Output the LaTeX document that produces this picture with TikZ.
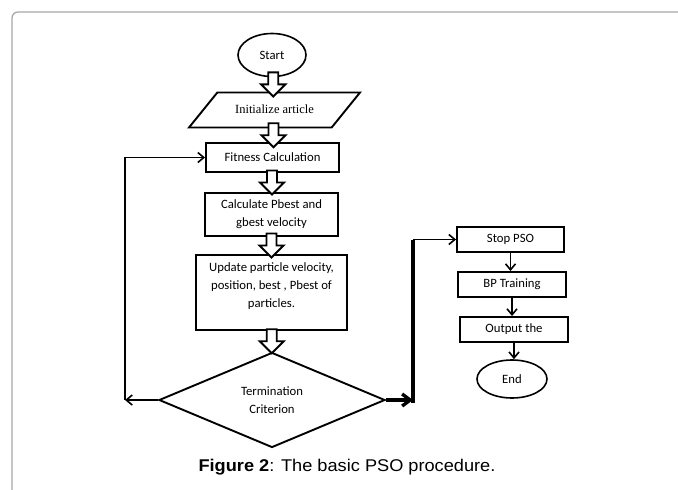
\documentclass[tikz,border=0pt]{standalone}
\usepackage{fontspec}
\setmainfont{Carlito}
\newfontfamily\timesfont{Liberation Serif}
\newfontfamily\arialfont{Liberation Sans}
\usetikzlibrary{arrows.meta,shapes.geometric,calc}
\definecolor{framegray}{HTML}{A8A8A8}
\newcommand{\boxfont}{\fontsize{12.7}{18}\selectfont}
\tikzset{
  procbox/.style={draw,line width=1.9pt,align=center,inner sep=0pt,
                  font=\boxfont},
  termnode/.style={draw,ellipse,line width=1.6pt,inner sep=0pt,
                   font=\boxfont},
  blockarr/.style={draw,fill=white,line width=1.9pt,line join=miter,
    to path={let \p1=($(\tikztostart)!0.5!(\tikztotarget)$) in
      ({\x1-5pt},{\y1+12pt}) -- ({\x1+5pt},{\y1+12pt}) -- ({\x1+5pt},\y1)
      -- ({\x1+12pt},\y1) -- (\x1,{\y1-12pt}) -- ({\x1-12pt},\y1)
      -- ({\x1-5pt},\y1) -- cycle}},
  thinarr/.style={-{Straight Barb[length=6pt,width=10pt]},line width=1.6pt},
  thickarr/.style={-{Straight Barb[length=8pt,width=12pt]},line width=3.4pt}
}
\begin{document}
\begin{tikzpicture}[x=1pt,y=-1pt]
  \useasboundingbox (0,0) rectangle (678,490);
  % page frame
  \draw[framegray,line width=1.3pt,rounded corners=6pt]
    (12,490) -- (12,12) -- (678,12);
  % main column
  \node[termnode,minimum width=68pt,minimum height=43pt] (start)
    at (272,55) {Start};
  \node[trapezium,draw,line width=1.9pt,trapezium left angle=51,
        trapezium right angle=129,trapezium stretches body,
        minimum width=171pt,text height=9pt,text depth=3pt,
        inner xsep=0pt,inner ysep=11.5pt,
        font=\timesfont\fontsize{12.5}{15}\selectfont] (init)
    at (274.5,110) {Initialize article};
  \node[procbox,minimum width=133pt,minimum height=29pt] (fit)
    at (272.5,157.5) {Fitness Calculation};
  \node[procbox,minimum width=133pt,minimum height=43pt] (calc)
    at (271.5,214.5) {Calculate Pbest and\\gbest velocity};
  \node[procbox,minimum width=151pt,minimum height=75pt,text depth=15pt] (upd)
    at (271.5,292.5) {Update particle velocity,\\position, best , Pbest of\\particles.};
  \node[diamond,draw,line width=1.9pt,minimum width=226pt,minimum height=95pt,
        inner sep=0pt,align=center,font=\boxfont] (term)
    at (272,400) {Termination\\Criterion};
  \foreach \a/\b in {start/init,init/fit,fit/calc,calc/upd,upd/term}
    \draw[blockarr] (\a.south) to (\b.north);
  % loop back
  \coordinate (lturn) at (125,400);
  \draw[thinarr] (term.west) -- (lturn);
  \draw[thinarr] (lturn) |- (fit.west);
  % right column
  \node[procbox,minimum width=107pt,minimum height=25pt] (stop)
    at (510.5,239.5) {Stop PSO};
  \node[procbox,minimum width=108pt,minimum height=25pt] (bp)
    at (512,284.5) {BP Training};
  \node[procbox,minimum width=108pt,minimum height=25pt] (outp)
    at (514,329.5) {Output the};
  \node[termnode,minimum width=70pt,minimum height=38pt] (end)
    at (512,379) {End};
  \foreach \a/\b in {stop/bp,bp/outp,outp/end}
    \draw[thinarr] (\a.south) -- (\a.south |- \b.north);
  % exit
  \coordinate (rturn) at (413,400);
  \coordinate (rtop) at (rturn |- stop.west);
  \draw[thickarr] (term.east) -- (rturn);
  \draw[line width=3.4pt] (413,403) -- (rtop);
  \draw[thinarr] (rtop) -- (stop.west);
  % caption
  \node[font=\arialfont\fontsize{17}{20}\selectfont] (cap)
    at (347,467) {\scalebox{1.07}[1]{\textbf{Figure 2}: The basic PSO procedure.}};
\end{tikzpicture}
\end{document}
